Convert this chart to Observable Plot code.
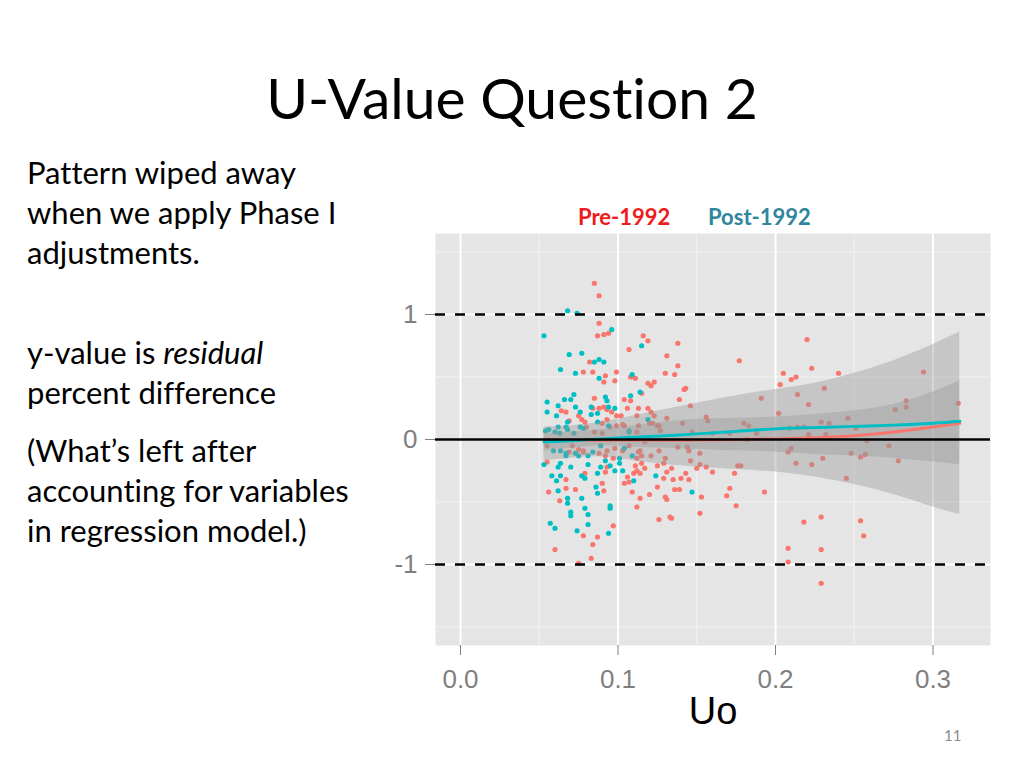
<!DOCTYPE html>
<html>
<head>
<meta charset="utf-8">
<script src="https://cdn.jsdelivr.net/npm/d3@7"></script>
<script src="https://cdn.jsdelivr.net/npm/@observablehq/plot@0.6"></script>
<style>
  html, body { margin: 0; padding: 0; background: #fff; }
  #slide { position: relative; width: 1024px; height: 768px; overflow: hidden; font-family: Lato, "Open Sans", sans-serif; color: #000; font-variant-ligatures: none; font-feature-settings: "liga" 0, "clig" 0; }
  #title { position: absolute; left: 0; top: 62px; width: 1024px; text-align: center; font-size: 57px; line-height: 70px; }
  .para { position: absolute; left: 27px; font-size: 31px; line-height: 40px; }
  .leg { position: absolute; top: 203px; font-size: 22px; font-weight: bold; line-height: 28px; }
  #chart { position: absolute; left: 380px; top: 225px; }
  #pagenum { position: absolute; left: 944px; top: 726px; font-size: 15px; color: #8c8c8c; }
</style>
</head>
<body>
<div id="slide">
  <div id="title">U-Value Question 2</div>
  <div class="para" style="top:152px">Pattern wiped away<br>when we apply Phase I<br>adjustments.</div>
  <div class="para" style="top:332px">y-value is <i>residual</i><br>percent difference</div>
  <div class="para" style="top:430px">(What’s left after<br>accounting for variables<br>in regression model.)</div>
  <div class="leg" style="left:578px;color:#ee1c1c">Pre-1992</div>
  <div class="leg" style="left:708px;color:#31859c">Post-1992</div>
  <div id="chart"></div>
  <div id="pagenum">11</div>
</div>
<script>
// ---- data ----
const preX = [0.085,0.088,0.088,0.087,0.091,0.094,0.082,0.078,0.084,0.092,0.099,0.091,0.098,0.085,0.084,0.088,0.091,0.093,0.096,0.099,0.067,0.064,0.075,0.077,0.079,0.080,0.069,0.090,0.093,0.099,
  0.056,0.067,0.073,0.063,0.091,0.090,0.097,0.087,0.078,0.084,0.060,0.083,0.075,0.092,0.067,0.079,0.092,0.097,0.055,0.069,0.078,0.088,0.093,
  0.116,0.119,0.107,0.138,0.131,0.138,0.130,0.136,0.143,0.142,0.139,0.146,0.108,0.111,0.119,0.121,0.123,0.104,0.106,0.108,0.113,0.112,0.119,0.121,0.123,0.102,0.104,0.131,0.126,0.120,0.141,0.127,0.113,
  0.113,0.115,0.112,0.111,0.112,0.115,0.114,0.110,0.106,0.104,0.107,0.109,0.114,0.112,0.120,0.125,0.130,0.131,0.136,0.139,0.125,0.129,0.130,0.131,0.129,0.135,0.143,0.145,0.150,0.146,0.152,0.126,0.133,0.134,0.152,0.121,0.117,
  0.177,0.156,0.157,0.180,0.183,0.188,0.191,0.202,0.203,0.205,0.210,0.213,0.214,0.209,0.182,0.208,0.210,0.213,0.160,0.156,0.174,0.176,0.178,0.171,0.169,0.175,0.193,0.153,0.208,0.208,
  0.240,0.231,0.221,0.294,0.283,0.283,0.276,0.316,0.246,0.234,0.229,0.218,0.214,0.221,0.232,0.251,0.258,0.272,0.278,0.248,0.254,0.257,0.230,0.223,0.245,0.218,0.229,0.254,0.147,0.160,0.171,0.138,0.144,0.145,0.152,0.134,0.140,
  0.085,0.090,0.095,0.103,0.112,0.122,0.125,0.055,0.071,0.075,0.078,0.093,0.098,0.103,0.107,0.114,0.117,0.126,0.115,
  0.220,0.223,0.256,0.229,0.229];
const preY = [1.25,1.15,0.93,0.83,0.84,0.85,0.62,0.54,0.54,0.51,0.54,0.46,0.47,0.33,0.25,0.25,0.26,0.24,0.22,0.19,0.22,0.23,0.19,0.16,0.14,0.10,0.15,0.13,0.16,0.11,
  -0.42,-0.39,-0.40,-0.49,-0.41,-0.35,-0.69,-0.78,-0.77,-0.84,-0.88,-0.95,-0.99,-0.26,-0.32,-0.27,-0.13,-0.15,-0.18,-0.10,-0.10,-0.11,-0.22,
  0.83,0.79,0.72,0.77,0.67,0.59,0.53,0.52,0.41,0.40,0.32,0.27,0.50,0.49,0.45,0.43,0.46,0.32,0.25,0.31,0.25,0.19,0.25,0.22,0.19,0.19,0.11,0.17,0.11,0.13,0.13,0.07,0.11,
  -0.10,-0.13,-0.15,-0.21,-0.25,-0.19,-0.27,-0.27,-0.30,-0.35,-0.34,-0.42,-0.47,-0.54,-0.44,-0.38,-0.46,-0.48,-0.40,-0.40,-0.21,-0.19,-0.15,-0.26,-0.31,-0.32,-0.27,-0.32,-0.23,-0.17,-0.20,-0.64,-0.62,-0.63,-0.59,-0.13,-0.23,
  0.63,0.18,0.15,0.13,0.11,0.05,0.33,0.21,0.44,0.53,0.48,0.50,0.36,0.09,0.00,-0.10,-0.07,-0.19,-0.26,-0.22,-0.27,-0.21,-0.21,-0.39,-0.45,-0.53,-0.42,-0.46,-0.87,-0.98,
  0.53,0.41,0.28,0.54,0.31,0.26,0.24,0.29,0.17,0.13,0.14,0.10,0.10,0.04,0.04,0.09,-0.01,-0.05,-0.17,-0.11,-0.14,-0.12,-0.15,-0.20,-0.31,-0.66,-0.62,-0.65,0.06,0.05,0.05,-0.06,-0.06,-0.09,-0.11,-0.23,-0.31,
  0.06,0.05,0.10,0.12,0.06,0.13,0.11,-0.05,-0.05,-0.08,-0.09,-0.09,-0.07,-0.09,-0.05,-0.09,-0.02,-0.09,0.37,
  0.80,0.57,-0.77,-0.88,-1.15];

const postX = [0.068,0.074,0.053,0.096,0.069,0.077,0.0635,0.073,0.085,0.088,0.091,0.088,0.055,0.055,0.062,0.066,0.070,0.072,0.073,0.076,0.083,0.083,0.087,0.092,0.093,0.094,0.098,0.061,0.062,0.067,0.068,0.076,0.087,0.094,
  0.053,0.062,0.0635,0.070,0.058,0.061,0.0635,0.062,0.068,0.068,0.070,0.070,0.077,0.079,0.081,0.087,0.089,0.086,0.087,0.077,0.079,0.081,0.095,0.095,0.081,0.074,0.057,0.060,0.094,0.092,0.095,0.098,0.075,0.081,0.067,0.073,
  0.115,0.109,0.114,0.108,0.119,0.107,
  0.109,0.124,0.110,0.147,0.103,0.101,0.101,0.104,
  0.054,0.056,0.060,0.063,0.068,0.072,0.078,0.107,0.059,0.0635,0.067,0.084,0.089];
const postY = [1.03,1.01,0.83,0.88,0.68,0.69,0.56,0.53,0.62,0.64,0.62,0.49,0.30,0.22,0.27,0.32,0.32,0.36,0.26,0.22,0.26,0.20,0.21,0.34,0.31,0.26,0.25,0.19,0.10,0.10,0.14,0.10,0.14,0.11,
  -0.20,-0.22,-0.19,-0.22,-0.29,-0.33,-0.29,-0.41,-0.47,-0.51,-0.58,-0.61,-0.29,-0.31,-0.20,-0.27,-0.22,-0.38,-0.43,-0.47,-0.55,-0.60,-0.53,-0.55,-0.68,-0.73,-0.67,-0.71,-0.75,-0.17,-0.21,-0.25,-0.13,-0.13,-0.13,-0.11,
  0.75,0.52,0.38,0.35,0.16,0.07,
  -0.13,-0.29,-0.33,-0.42,-0.25,-0.15,-0.19,-0.07,
  0.07,0.08,0.06,0.05,0.08,0.05,0.09,0.06,-0.09,-0.09,-0.11,-0.10,-0.05];

// smoothing fits and their confidence bands
const fitX     = [0.053, 0.07, 0.09, 0.11, 0.13, 0.15, 0.175, 0.2, 0.225, 0.25, 0.275, 0.3, 0.317];
const fitPre   = [0.0, -0.005, -0.005, -0.005, -0.005, -0.005, 0.0, 0.005, 0.015, 0.03, 0.06, 0.10, 0.13];
const fitPost  = [-0.02, -0.01, 0.005, 0.018, 0.03, 0.045, 0.065, 0.085, 0.095, 0.105, 0.115, 0.13, 0.146];
const wideHi   = [0.10, 0.11, 0.14, 0.19, 0.24, 0.29, 0.35, 0.40, 0.45, 0.53, 0.63, 0.76, 0.86];
const wideLo   = [-0.17, -0.15, -0.14, -0.17, -0.20, -0.22, -0.24, -0.26, -0.30, -0.36, -0.44, -0.54, -0.60];
const narrowHi = [0.05, 0.06, 0.08, 0.11, 0.14, 0.16, 0.17, 0.18, 0.20, 0.23, 0.28, 0.38, 0.47];
const narrowLo = [-0.09, -0.07, -0.05, -0.06, -0.07, -0.08, -0.09, -0.10, -0.12, -0.13, -0.15, -0.18, -0.20];

const majorX = [0, 0.1, 0.2, 0.3];
const minorX = [0.05, 0.15, 0.25];
const majorY = [-1, 0, 1];
const minorY = [-1.5, -0.5, 0.5, 1.5];
const refDashed = [-1, 1];

// ---- build tables ----
const pre = preX.map((x, i) => ({x, y: preY[i]}));
const post = postX.map((x, i) => ({x, y: postY[i]}));
const fits = fitX.map((x, i) => ({x, pre: fitPre[i], post: fitPost[i], wHi: wideHi[i], wLo: wideLo[i], nHi: narrowHi[i], nLo: narrowLo[i]}));

const chart = Plot.plot({
  width: 620,
  height: 500,
  marginLeft: 55,
  marginRight: 10,
  marginTop: 8,
  marginBottom: 80,
  x: {domain: [-0.01587, 0.3365]},
  y: {domain: [-1.648, 1.648]},
  style: {background: "transparent", fontFamily: "'Liberation Sans', Arial, sans-serif", overflow: "visible"},
  marks: [
    Plot.frame({fill: "#e5e5e5", stroke: null}),
    Plot.ruleX(minorX, {stroke: "#f2f2f2", strokeWidth: 1}),
    Plot.ruleY(minorY, {stroke: "#f2f2f2", strokeWidth: 1}),
    Plot.ruleX(majorX, {stroke: "#ffffff", strokeWidth: 2}),
    Plot.ruleY(majorY, {stroke: "#ffffff", strokeWidth: 2}),
    Plot.dot(pre, {x: "x", y: "y", r: 2.6, fill: "#F8766D"}),
    Plot.dot(post, {x: "x", y: "y", r: 2.6, fill: "#00BFC4"}),
    Plot.areaY(fits, {x: "x", y1: "wLo", y2: "wHi", fill: "#999999", fillOpacity: 0.4, curve: "natural"}),
    Plot.areaY(fits, {x: "x", y1: "nLo", y2: "nHi", fill: "#999999", fillOpacity: 0.4, curve: "natural"}),
    Plot.line(fits, {x: "x", y: "pre", stroke: "#F8766D", strokeWidth: 3, curve: "natural"}),
    Plot.line(fits, {x: "x", y: "post", stroke: "#00BFC4", strokeWidth: 3, curve: "natural", strokeLinecap: "round"}),
    Plot.ruleY([0], {stroke: "#000", strokeWidth: 2.5}),
    Plot.ruleY(refDashed, {stroke: "#000", strokeWidth: 2.5, strokeDasharray: "10,10"}),
    Plot.axisX({ticks: majorX, tickFormat: d3.format(".1f"), tickSize: 10, tickPadding: 14, fontSize: 26, color: "#7f7f7f", label: null}),
    Plot.axisY({ticks: majorY, tickFormat: d => String(d), tickSize: 10, tickPadding: 8, fontSize: 26, color: "#7f7f7f", label: null}),
    Plot.text(["Uo"], {frameAnchor: "bottom", dy: 78, fontSize: 38, fill: "#000"})
  ]
});
document.getElementById("chart").appendChild(chart);
</script>
</body>
</html>
